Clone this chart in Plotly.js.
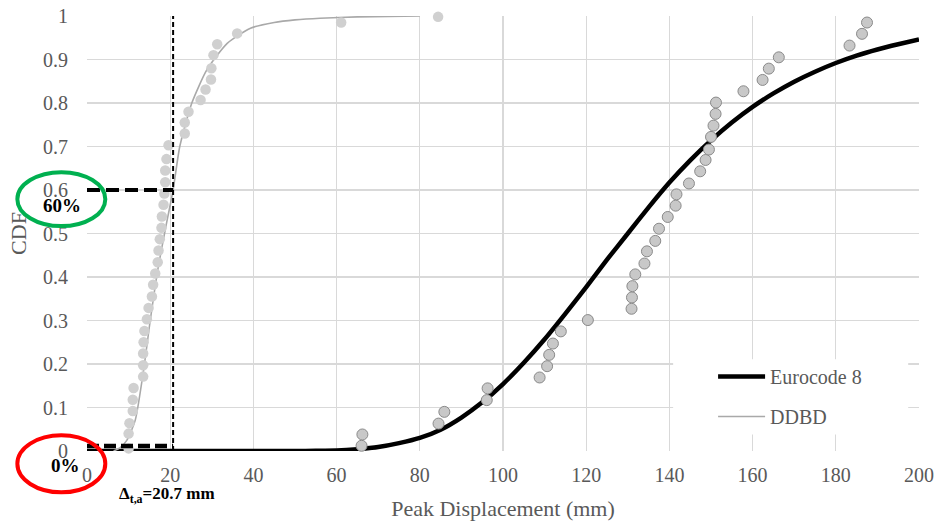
<!DOCTYPE html>
<html>
<head>
<meta charset="utf-8">
<script src="https://cdn.plot.ly/plotly-3.0.1.min.js"></script>
<style>
  html, body { margin: 0; padding: 0; background: #ffffff; }
  #chart { width: 937px; height: 521px; }
</style>
</head>
<body>
<div id="chart"></div>
<script>
// Fitted CDF of peak displacement, Eurocode 8 design (mm, probability)
const ec8CurveX = [0, 10, 20, 30, 40, 45, 50, 55, 60, 65, 70, 75, 80, 85, 90, 95, 100, 105, 110, 115, 120, 125, 130, 135, 140, 145, 150, 155, 160, 165, 170, 175, 180, 185, 190, 195, 200];
const ec8CurveY = [0, 0, 0, 0, 0, 0, 0, 0.0003, 0.001, 0.004, 0.009, 0.018, 0.030, 0.049, 0.077, 0.112, 0.154, 0.203, 0.257, 0.316, 0.377, 0.440, 0.500, 0.560, 0.617, 0.668, 0.714, 0.755, 0.791, 0.822, 0.849, 0.872, 0.892, 0.909, 0.923, 0.935, 0.946];

// Fitted CDF of peak displacement, DDBD design
const ddbdCurveX = [6.4, 8, 9.6, 11.6, 13.6, 15.2, 17.0, 18.9, 20.7, 22.3, 25.2, 28.8, 33.7, 39.3, 45, 50, 56, 65, 80];
const ddbdCurveY = [0, 0.008, 0.025, 0.071, 0.186, 0.300, 0.416, 0.513, 0.600, 0.700, 0.800, 0.876, 0.937, 0.972, 0.985, 0.991, 0.995, 0.998, 1.0];

// Sample results (empirical CDF), Eurocode 8
const ec8PointsX = [66.0, 66.2, 84.5, 85.9, 96.1, 96.3, 108.8, 110.6, 111.1, 112.0, 113.9, 120.4, 130.9, 131.0, 131.1, 131.8, 134.0, 134.6, 136.6, 137.5, 139.6, 141.5, 141.7, 144.7, 147.4, 148.7, 149.5, 150.0, 150.6, 151.1, 151.2, 157.8, 162.4, 163.9, 166.3, 183.3, 186.3, 187.5];
const ec8PointsY = [0.012, 0.038, 0.063, 0.090, 0.117, 0.144, 0.169, 0.195, 0.221, 0.247, 0.275, 0.301, 0.327, 0.353, 0.379, 0.406, 0.431, 0.459, 0.483, 0.511, 0.538, 0.564, 0.590, 0.615, 0.643, 0.669, 0.693, 0.722, 0.748, 0.775, 0.801, 0.827, 0.853, 0.879, 0.905, 0.932, 0.959, 0.985];

// Sample results (empirical CDF), DDBD
const ddbdPointsX = [10.0, 10.0, 10.2, 11.0, 11.0, 11.2, 13.5, 13.5, 13.5, 13.6, 13.8, 14.4, 14.8, 15.6, 15.9, 16.4, 17.0, 17.2, 17.5, 17.9, 18.0, 18.4, 18.6, 18.8, 18.8, 19.1, 19.6, 23.5, 23.5, 24.4, 27.3, 28.5, 29.8, 29.9, 30.4, 31.3, 36.1, 61.1, 84.4];
const ddbdPointsY = [0.006, 0.040, 0.064, 0.092, 0.118, 0.145, 0.171, 0.197, 0.224, 0.250, 0.276, 0.303, 0.329, 0.355, 0.382, 0.408, 0.434, 0.461, 0.487, 0.513, 0.539, 0.566, 0.592, 0.618, 0.645, 0.671, 0.703, 0.730, 0.755, 0.780, 0.807, 0.831, 0.854, 0.880, 0.910, 0.935, 0.960, 0.985, 0.998];

// Allowable displacement and the probability levels marked on the chart
const deltaTA = 20.7;
const probHigh = 0.6;
const probLow = 0;

const xTickVals = [0, 20, 40, 60, 80, 100, 120, 140, 160, 180, 200];
const yTickVals = [0, 0.1, 0.2, 0.3, 0.4, 0.5, 0.6, 0.7, 0.8, 0.9, 1];

const serif = '"Liberation Serif", "Times New Roman", serif';
const axisGray = '#595959';

const traces = [
  {
    x: ec8CurveX, y: ec8CurveY, type: 'scatter', mode: 'lines',
    name: 'Eurocode 8', legendgroup: 'ec8',
    line: { color: '#000000', width: 4.5, shape: 'spline', smoothing: 0.5 }
  },
  {
    x: ddbdCurveX, y: ddbdCurveY, type: 'scatter', mode: 'lines',
    name: 'DDBD', legendgroup: 'ddbd',
    line: { color: '#a9a9a9', width: 1.6, shape: 'spline', smoothing: 0.6 }
  },
  {
    x: ddbdPointsX, y: ddbdPointsY, type: 'scatter', mode: 'markers',
    showlegend: false, cliponaxis: false,
    marker: { size: 10.5, color: '#d0d0d0', line: { width: 0 } }
  },
  {
    x: ec8PointsX, y: ec8PointsY, type: 'scatter', mode: 'markers',
    showlegend: false, cliponaxis: false,
    marker: { size: 11, color: '#c8c8c8', line: { width: 1, color: '#8a8a8a' } }
  }
];

const shapes = [
  // white panel behind the legend
  { type: 'rect', xref: 'x', yref: 'y', x0: 140.9, x1: 197.4, y0: 0.038, y1: 0.211,
    layer: 'between', fillcolor: '#ffffff', line: { width: 0 } },
  // allowable displacement
  { type: 'line', xref: 'x', yref: 'y', x0: deltaTA, x1: deltaTA, y0: 0, y1: 1,
    line: { color: '#000000', width: 2, dash: '5px,3px' } },
  // 60 % level
  { type: 'line', xref: 'x', yref: 'y', x0: 0, x1: deltaTA, y0: probHigh, y1: probHigh,
    line: { color: '#000000', width: 4, dash: '13px,6px' } },
  // 0 % level, lifted off the Eurocode curve
  { type: 'line', xref: 'x', yref: 'y', ysizemode: 'pixel', yanchor: probLow,
    x0: 0, x1: deltaTA, y0: 5, y1: 5,
    line: { color: '#000000', width: 4.5, dash: '12px,5px' } },
  // highlight rings
  { type: 'circle', xref: 'paper', yref: 'paper', x0: -0.0837, x1: 0.022, y0: 0.517, y1: 0.641,
    line: { color: '#00b050', width: 4 } },
  { type: 'circle', xref: 'paper', yref: 'paper', x0: -0.0837, x1: 0.022, y0: -0.095, y1: 0.036,
    line: { color: '#ff0000', width: 4 } }
];

const annotations = [
  { text: '<b>' + Math.round(probHigh * 100) + '%</b>', xref: 'paper', yref: 'paper',
    x: -0.0297, y: 0.565, showarrow: false, xanchor: 'center', yanchor: 'middle',
    font: { family: serif, size: 19, color: '#000000' } },
  { text: '<b>' + Math.round(probLow * 100) + '%</b>', xref: 'paper', yref: 'paper',
    x: -0.026, y: -0.033, showarrow: false, xanchor: 'center', yanchor: 'middle',
    font: { family: serif, size: 19, color: '#000000' } },
  { text: '<b>Δ<sub>t,a</sub>=' + deltaTA + ' mm</b>', xref: 'paper', yref: 'paper',
    x: 0.0965, y: -0.102, showarrow: false, xanchor: 'center', yanchor: 'middle',
    font: { family: serif, size: 17, color: '#000000' } }
];

const layout = {
  width: 937, height: 521,
  margin: { l: 87, r: 18, t: 16, b: 70 },
  paper_bgcolor: '#ffffff', plot_bgcolor: '#ffffff',
  font: { family: serif, color: axisGray },
  showlegend: true,
  legend: {
    x: 0.7525, y: 0.216, xanchor: 'left', yanchor: 'top',
    bgcolor: 'rgba(0,0,0,0)', borderwidth: 0,
    font: { family: serif, size: 20, color: axisGray },
    tracegroupgap: 11, itemwidth: 47
  },
  xaxis: {
    range: [0, 200], tickvals: xTickVals, ticks: '', ticklabelstandoff: 10,
    showgrid: true, gridcolor: '#d9d9d9', gridwidth: 1.3, zeroline: false, showline: false,
    tickfont: { family: serif, size: 20, color: axisGray },
    title: { text: 'Peak Displacement (mm)', standoff: 16,
             font: { family: serif, size: 22, color: axisGray } },
    automargin: false, fixedrange: true
  },
  yaxis: {
    range: [0, 1], tickvals: yTickVals, ticks: '', ticklabelstandoff: 18,
    showgrid: true, gridcolor: '#d9d9d9', gridwidth: 1.3, zeroline: false, showline: false,
    tickfont: { family: serif, size: 20, color: axisGray },
    title: { text: 'CDF', standoff: 10,
             font: { family: serif, size: 22, color: axisGray } },
    automargin: false, fixedrange: true
  },
  shapes: shapes,
  annotations: annotations
};

Plotly.newPlot('chart', traces, layout, { staticPlot: true, displayModeBar: false });
</script>
</body>
</html>
